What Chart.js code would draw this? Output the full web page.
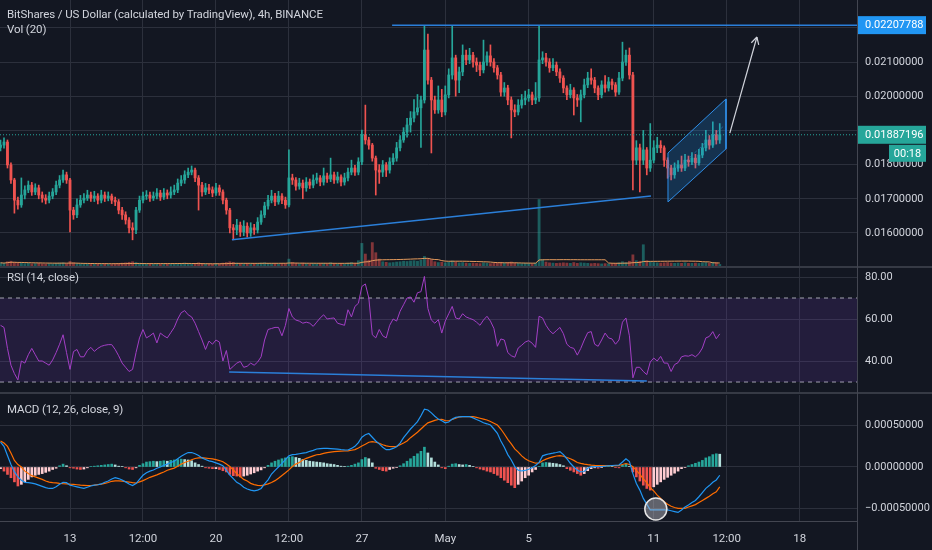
<!DOCTYPE html>
<html>
<head>
<meta charset="utf-8">
<script src="https://cdn.jsdelivr.net/npm/chart.js@4.4.1/dist/chart.umd.min.js"></script>
<style>
  html, body { margin: 0; padding: 0; background: #131722; }
  body { width: 932px; height: 550px; position: relative; overflow: hidden; font-family: Roboto, sans-serif; }
  .pane { position: absolute; left: 0; width: 932px; }
  .sep { position: absolute; left: 0; width: 932px; height: 2px; background: #363a45; }
  .axisline { position: absolute; left: 857px; top: 0; width: 1px; height: 550px; background: #434651; }
  .legend { position: absolute; left: 7px; color: #d1d4dc; font-size: 11.5px; line-height: 14px; white-space: nowrap; letter-spacing: -0.1px; }
</style>
</head>
<body>
<div class="pane" style="top:0;height:266px"><canvas id="priceChart"></canvas></div>
<div class="sep" style="top:266px"></div>
<div class="pane" style="top:268px;height:124px"><canvas id="rsiChart"></canvas></div>
<div class="sep" style="top:392px"></div>
<div class="pane" style="top:395px;height:155px"><canvas id="macdChart"></canvas></div>
<div class="axisline"></div>
<div class="legend" style="top:7px">BitShares / US Dollar (calculated by TradingView), 4h, BINANCE</div>
<div class="legend" style="top:22px">Vol (20)</div>
<div class="legend" style="top:270px">RSI (14, close)</div>
<div class="legend" style="top:402px">MACD (12, 26, close, 9)</div>
<script>
// prices in units of 1e-5 USD, one candle per 4h
const firstOpen = 1850;
const closes = [
  1857,1866,1799,1755,1696,1682,1711,1726,1740,1720,
  1732,1711,1702,1696,1708,1720,1740,1755,1770,1755,
  1667,1653,1682,1696,1702,1711,1702,1708,1696,1711,
  1702,1708,1696,1691,1667,1653,1638,1615,1609,1667,
  1696,1708,1711,1702,1708,1717,1705,1717,1711,1720,
  1726,1746,1755,1770,1778,1784,1761,1740,1720,1732,
  1726,1717,1732,1720,1696,1667,1615,1609,1623,1603,
  1620,1600,1615,1609,1632,1653,1679,1696,1708,1691,
  1708,1696,1682,1761,1755,1737,1746,1732,1749,1740,
  1755,1761,1749,1767,1758,1770,1755,1764,1749,1761,
  1778,1790,1778,1808,1887,1872,1857,1819,1784,1778,
  1799,1784,1808,1819,1849,1872,1895,1916,1936,1954,
  1966,1989,2135,2047,1989,1960,1989,1954,2004,2062,
  2112,2047,2071,2120,2106,2120,2100,2091,2077,2100,
  2118,2100,2083,2062,2012,2024,1989,1960,1954,1974,
  1989,1995,2004,1989,1995,2106,2112,2100,2083,2091,
  2071,2053,2024,2004,2018,1995,1989,2004,2033,2053,
  2047,2024,2004,2033,2024,2042,2033,2012,2053,2100,
  2120,2062,1813,1849,1813,1843,1790,1813,1849,1857,
  1849,1813,1790,1770,1790,1799,1790,1813,1808,1819,
  1805,1828,1849,1872,1857,1887,1872,1887.196
];
const highs = [
  1872,1878,1872,1805,1760,1705,1761,1738,1752,1748,
  1744,1740,1720,1712,1720,1730,1752,1768,1784,1778,
  1760,1675,1700,1710,1715,1725,1720,1722,1715,1725,
  1720,1720,1714,1705,1698,1675,1662,1645,1630,1675,
  1708,1720,1724,1720,1720,1730,1725,1730,1726,1735,
  1740,1758,1768,1782,1790,1796,1790,1768,1748,1745,
  1742,1735,1745,1740,1726,1702,1672,1625,1640,1632,
  1636,1630,1630,1625,1645,1665,1690,1710,1725,1716,
  1722,1715,1705,1843,1772,1762,1760,1755,1762,1758,
  1770,1775,1768,1790,1775,1819,1778,1778,1770,1775,
  1790,1813,1798,1820,1901,1974,1880,1862,1825,1800,
  1812,1806,1820,1832,1865,1885,1908,1935,1955,1990,
  2005,2000,2205,2182,2055,2000,2030,2020,2030,2080,
  2205,2120,2085,2150,2135,2140,2128,2112,2100,2164,
  2130,2150,2110,2090,2070,2040,2032,1998,1975,1990,
  2005,2015,2020,2012,2040,2205,2130,2125,2110,2110,
  2100,2080,2060,2030,2035,2025,2005,2018,2050,2070,
  2080,2055,2030,2045,2060,2055,2050,2040,2070,2158,
  2135,2141,2070,1870,1860,1900,1850,1920,1870,1880,
  1870,1855,1820,1798,1805,1812,1825,1830,1825,1835,
  1830,1845,1862,1900,1885,1925,1900,1920
];
const lows = [
  1840,1848,1790,1745,1658,1670,1675,1700,1718,1710,
  1712,1700,1690,1685,1688,1700,1712,1732,1748,1745,
  1603,1640,1645,1675,1688,1695,1692,1692,1685,1688,
  1692,1694,1686,1680,1656,1640,1626,1600,1580,1598,
  1660,1688,1698,1692,1695,1700,1695,1698,1700,1702,
  1712,1718,1738,1745,1762,1770,1750,1667,1708,1712,
  1715,1706,1710,1710,1685,1655,1600,1580,1595,1590,
  1592,1588,1590,1596,1600,1625,1645,1670,1688,1680,
  1684,1686,1672,1676,1742,1725,1728,1700,1722,1730,
  1732,1745,1738,1740,1748,1750,1745,1746,1738,1740,
  1752,1770,1768,1770,1800,1860,1845,1810,1711,1745,
  1765,1765,1775,1800,1810,1840,1865,1880,1895,1925,
  1945,1850,1980,2035,1834,1950,1950,1940,1945,1995,
  2050,2000,2010,2060,2092,2095,2085,2072,2060,2068,
  2090,2088,2070,2050,2000,2000,1975,1878,1940,1945,
  1965,1975,1985,1975,1978,1985,2095,2088,2070,2075,
  2060,2040,2010,1990,1995,1945,1970,1925,1995,2025,
  2035,2010,1990,1995,2012,2015,2020,2000,2005,2045,
  2090,2050,1726,1800,1720,1800,1770,1780,1805,1835,
  1835,1795,1760,1755,1760,1780,1780,1782,1795,1800,
  1790,1798,1820,1840,1845,1850,1860,1862
];
const volumes = [
  1.2,1.0,1.6,1.8,1.4,1.1,1.3,0.9,1.0,0.8,0.9,1.0,0.8,0.7,0.9,0.8,1.0,1.1,1.2,0.9,
  1.7,1.2,0.9,0.8,0.7,0.8,0.6,0.7,0.7,0.6,0.8,0.7,0.6,0.8,1.0,1.1,1.2,1.4,1.6,1.3,
  1.1,0.9,0.8,0.7,0.7,0.8,0.6,0.7,0.8,0.7,0.9,1.0,0.9,1.1,0.9,0.8,1.0,1.2,0.9,0.8,
  0.8,0.7,0.9,0.8,1.1,1.3,1.6,1.4,1.1,1.0,0.9,1.0,0.8,0.9,1.0,1.1,1.2,1.0,0.9,0.8,
  0.8,0.9,0.9,2.6,1.3,1.0,0.9,1.1,0.9,0.8,0.9,0.8,0.9,1.0,0.8,1.2,0.9,0.8,0.9,0.8,
  1.1,1.3,1.0,2.0,8.5,4.5,2.2,8.8,5.0,2.6,1.6,1.4,1.2,1.3,1.5,1.6,1.8,1.7,1.9,2.0,
  1.8,2.2,3.6,2.6,2.4,1.6,1.3,1.4,1.2,1.5,1.9,1.5,1.2,1.3,1.1,1.0,1.1,1.0,0.9,1.2,
  1.0,0.9,1.0,1.1,1.4,1.1,1.3,1.5,1.1,1.0,0.9,1.0,0.9,0.8,1.1,25,2.4,1.5,1.2,1.1,
  1.0,1.1,1.2,1.1,1.0,1.3,1.0,1.2,1.1,1.0,0.9,1.0,0.9,0.8,0.9,0.8,0.9,1.0,1.2,1.6,
  1.3,1.8,4.2,2.0,1.8,8.0,2.0,1.6,1.3,1.2,1.1,1.2,1.3,1.1,1.0,1.1,1.0,1.2,1.0,1.0,
  1.1,1.0,1.2,1.3,1.1,1.4,1.2,0.6
];
const rsiValues = [
  57,56,46,38,34,31,40,39,43,46,
  43,40,40,39,38,40.5,44,48,52.5,44,
  36,44.5,45.5,42,42,45,46.5,44.6,46,47,
  47.5,47.8,47.8,45.5,42.5,39,37,35,36,44,
  51,55,51,52,53.3,48.6,53.3,52,51,53.5,
  56,60,63,64,62,61,58,54,50,45.5,
  49.5,48,50,49,40,45,36,37.5,39,39.8,
  37,37.5,39,38,39.5,42,50,55,55.5,56,
  56,52,57,65,61,59.5,59,58,58.5,58,
  56.5,58.5,60.5,62,60,60.3,60.5,58,57.5,57,
  64.4,61,66,67.5,75.5,76.7,70,52.5,51,55,
  52,51,57,60,59,63.7,66.8,70,70.5,68,
  72.5,73,80.3,65,59.5,58,59.7,53.3,59,62.5,
  66,60.5,60,62.5,61,60.3,59.7,58.5,57,59.5,
  61.3,59,55.5,47,50.5,50,44,42.5,41.8,46.2,
  47.5,49,49.7,48.5,46.5,61.3,60.5,57,54.5,53,
  54.5,56,53,48,46.5,46,42.8,46,50,53.5,
  54,48,47,50,53.3,51,50.5,48,50,58.5,
  60.5,52,32,37,37,35,33.5,39.5,41.4,40,
  42.2,39,39,35,38.3,39.2,42,42.5,42.3,43,
  42,43.5,46.2,51,51.7,54,50.6,52.9
];
// MACD values in units of 1e-5
const macdLine = [
  30,25,14,3,-6,-12,-16,-18.6,-19,-19.5,
  -20.5,-22,-23.5,-25,-26,-26,-24,-21,-18.5,-19,
  -22,-23,-24,-25,-25.8,-24.5,-23,-22,-21.5,-20.5,
  -18.5,-17,-14.5,-13,-14,-15.7,-18,-20.5,-22.5,-20,
  -15,-10,-7,-5,-3.6,-1.5,0,2,3.5,5.5,
  7,10,13,15.5,17.5,17.5,16,14,11,9,
  7.5,6.5,5,3.5,1.5,-4,-9.7,-14,-18.6,-21,
  -24.5,-26.6,-28,-29,-28,-26,-20.5,-15.5,-8.5,-4,
  0,4.4,9,13.5,15,15.2,16,16.8,17.5,19,
  20.2,21.8,22.2,22.5,22.6,22.3,22,21.7,21.2,20.8,
  20.6,22.5,25,29.5,36,39,40.5,36,31.5,28,
  24,21,21,22.5,24.6,29,35.5,40.8,46,50.5,
  55,62,70,69,65.5,61.5,58,56,53.5,54.5,
  58,60,60.8,61,61,60.9,59.5,57.5,55.7,53.5,
  52.3,50.8,46,40.8,31.5,24,15,8.5,0.5,-3.8,
  -4.8,-4.2,-2.8,-1,1.8,5.5,13.5,15,16,16.7,
  17.6,18.6,15,10,4.5,0,-3.8,-6,-5.5,-1.5,
  0.4,0.4,0.4,0.6,1,1.5,1.8,2.1,2.4,6,
  10,6.5,-8,-20,-28,-38,-45,-52,-52,-52,
  -52,-52,-52,-53,-54,-55,-52,-48.5,-46,-43,
  -40.5,-36,-31,-25.8,-22.5,-18.5,-15.7,-10
];
const signalLine = [
  31.5,29,25,17,8,3,0,-5,-8,-10.5,
  -12,-13.5,-15,-17,-18.3,-19,-19.3,-19.8,-20.2,-20.5,
  -20.8,-21,-21.5,-22,-22.3,-22.6,-22.4,-22,-21.3,-20.8,
  -19.8,-18.8,-17.3,-16.8,-16.8,-17,-17.6,-18.2,-19,-19.6,
  -18,-16.5,-14.5,-12.5,-11,-9.5,-7.7,-6,-4,-2.5,
  -1.3,1,3.5,5.5,7,8.8,10.3,11,11.3,10.8,
  10.3,9.8,9,7.8,6.3,3.5,0.5,-3.6,-8,-11.5,
  -15,-17,-19.8,-21.3,-22.2,-22.6,-21.7,-20.5,-18.8,-16.5,
  -13.5,-10.2,-7,-3.5,0.5,3.5,5.5,8.5,10.5,12,
  13.5,14.8,15.3,16.4,17.3,18,18.6,19,19.2,19.4,
  19.6,20.3,21,23,25.5,27.5,30,30.7,30,28.7,
  27,25.5,24.8,24.6,25,27,29,31.5,35.5,38.7,
  42,46,50,53.5,55,56.5,57.5,57.8,56.2,56,
  57.5,59,60.5,61,61,61,60.9,60,59,58,
  56.9,55,53,50.8,46,40,33.5,28,22,18,
  13.5,10,7.5,6,4.6,5,7.5,9.5,11,12.3,
  13.3,13.7,13,11.5,10,8,5.5,4.4,3.5,2.8,
  2.3,2,1.8,1.6,1.6,1.6,1.6,1.6,2,3,
  4.2,3,0.4,-4,-9,-14.5,-19,-25,-29,-34,
  -38,-42,-45,-47.5,-49,-50,-50,-50,-48.5,-47,
  -45.5,-43,-40.5,-38,-35.5,-32.5,-30,-24
];
const histValues = [
  -2,-5,-9,-13,-18,-23,-21,-18,-15,-12,
  -10,-9,-8,-6.5,-5,-3,-1.5,1.5,3.5,1.5,
  -1,-1.5,-2.5,-3,-2.5,-1,0.5,1,1.5,2,
  2.5,3,3.5,2.5,1,0.5,-1,-2.5,-3,-1,
  2,4,6,6.5,7,6.5,7,7.5,7,8,
  8.5,9,9.5,9,8.5,7.5,5,3,1,-1,
  -1.5,-2,-2,-3,-4.5,-6,-9,-10.5,-11,-12,
  -11,-10,-8.5,-7,-5,-3.5,-1,2,5,7,
  8.5,10,11,12,12.5,11.5,10.5,9,8,7,
  6.5,6,5.5,5,4,3.5,3,2,1,0.5,
  1,2,3.5,5,9,11.5,10,5,-1.5,-3,
  -4.5,-5,-3,-1.5,-0.5,1.5,4,7,10,13,
  16,19,24,17,11,6,2.5,-1,-2,1,
  3.5,4,3,2.5,3,2,0.5,-1,-2.5,-3.5,
  -5,-6,-8,-10,-13,-16,-19,-22,-25,-21,
  -17,-13,-10,-6,-3,0.5,5,5.5,5,4.5,
  4,3,1.5,-2,-4,-6,-8,-10,-8,-4.5,
  -2,-1,-1.5,-0.5,0.5,1,0.5,-0.5,-1,2,
  3.5,0.5,-6,-12,-17,-22,-26,-28,-24,-21,
  -18,-15,-12.5,-10,-7.5,-5,-2,-0.5,1.5,3,
  4.5,6,8,11,12.5,15,16,15.5
];

const dayTicks = [20, 41, 62, 83, 104, 128, 152, 188, 209, 230];
const dayLabels = ['13', '12:00', '20', '12:00', '27', 'May', '5', '11', '12:00', '18'];
const priceTicks = [1600, 1700, 1800, 1900, 2000, 2100, 2200];
const hiddenPriceTicks = [1900, 2200];
const rsiTicks = [40, 60, 80];
const rsiBands = [70, 30];
const macdTicks = [-50, 0, 50];

// drawings on the chart, [candle index, value]
const resistanceLevel = 2207.788;
const resistanceFrom = 112.7;
const supportLine = [[66.6, 1580], [187.2, 1708]];
const channelUpper = [[192.1, 1834], [208.8, 1992]];
const channelLower = [[192.1, 1691], [208.8, 1846]];
const arrowLine = [[209.9, 1892], [217.7, 2173]];
const rsiTrend = [[65.8, 34.8], [186, 30.5]];
const macdCircle = [188.6, -50.8];
const countdown = '00:18';

const xMin = -0.15, xMax = 246.5;
const GREEN = '#26a69a', RED = '#ef5350', BLUE = '#2b7fd9';
const GRID = '#2c303c', TEXT = '#d1d4dc';
const FONT = "Roboto, 'Noto Sans', sans-serif";

Chart.defaults.font.family = FONT;

const fmtPrice = v => (v / 1e5).toFixed(8);
const pts = arr => arr.map(p => ({ x: p[0], y: p[1] }));
const series = arr => arr.map((v, i) => ({ x: i, y: v }));

const opens = closes.map((c, i) => i === 0 ? firstOpen : closes[i - 1]);
const candleColors = closes.map((c, i) => c >= opens[i] ? GREEN : RED);
const volColors = closes.map((c, i) => c >= opens[i] ? 'rgba(38,166,154,0.5)' : 'rgba(239,83,80,0.5)');
const lastClose = closes[closes.length - 1];

// 20 period moving average of volume
const volMA = volumes.map((v, i) => {
    const w = volumes.slice(Math.max(0, i - 19), i + 1);
    return w.reduce((a, b) => a + b, 0) / w.length;
});

const histColors = histValues.map((h, i) => {
    const p = i ? histValues[i - 1] : h;
    if (h >= 0) return h >= p ? '#26a69a' : '#b2dfdb';
    return h < p ? '#ef5350' : '#ffcdd2';
});

function xAxis(showLabels) {
    return {
        type: 'linear', min: xMin, max: xMax, offset: false,
        grid: { color: GRID, drawTicks: false, offset: false },
        border: { display: showLabels, color: '#434651' },
        afterBuildTicks: s => { s.ticks = dayTicks.map(v => ({ value: v })); },
        ticks: {
            display: showLabels, autoSkip: false, maxRotation: 0, color: TEXT,
            font: { size: 11.5 }, padding: 11,
            callback: v => dayLabels[dayTicks.indexOf(v)]
        },
        afterFit: s => {
            s.paddingLeft = 0;
            s.paddingRight = 0;
            if (showLabels) s.height = 29;
        }
    };
}

function yAxis(min, max, ticks, fmt) {
    return {
        position: 'right', min: min, max: max,
        grid: { color: GRID, drawTicks: false },
        border: { display: false },
        afterBuildTicks: s => { s.ticks = ticks.map(v => ({ value: v })); },
        ticks: { color: TEXT, padding: 8, font: { size: 11 }, callback: fmt },
        afterFit: s => {
            s.width = 75;
            s.paddingTop = 0;
            s.paddingBottom = 0;
        }
    };
}

const baseOptions = {
    responsive: true,
    maintainAspectRatio: false,
    animation: false,
    events: [],
    layout: { padding: 0, autoPadding: false },
    plugins: { legend: { display: false }, tooltip: { enabled: false } }
};

const flatLine = (label, data, color, extra) => Object.assign({
    type: 'line', label: label, data: data, borderColor: color, borderWidth: 1,
    pointRadius: 0, fill: false, order: 0
}, extra || {});

// price tags on the right axis
const priceLabels = {
    id: 'priceLabels',
    afterDraw(chart) {
        const { ctx } = chart;
        const y = chart.scales.y;
        const left = y.left;
        const tag = (value, color) => {
            const py = y.getPixelForValue(value);
            ctx.fillStyle = color;
            ctx.fillRect(left, py - 9, 69, 18);
            ctx.fillStyle = '#ffffff';
            ctx.font = '11px ' + FONT;
            ctx.textBaseline = 'middle';
            ctx.textAlign = 'left';
            ctx.fillText(fmtPrice(value), left + 8, py + 0.5);
            return py;
        };
        ctx.save();
        tag(resistanceLevel, '#2196f3');
        const py = tag(lastClose, GREEN);
        ctx.fillStyle = GREEN;
        ctx.fillRect(left + 32, py + 10, 37, 17);
        ctx.fillStyle = '#ffffff';
        ctx.textAlign = 'center';
        ctx.fillText(countdown, left + 50.5, py + 19);
        ctx.restore();
    }
};

const arrowHead = {
    id: 'arrowHead',
    afterDatasetsDraw(chart) {
        const idx = chart.data.datasets.findIndex(d => d.label === 'arrow');
        const p = chart.getDatasetMeta(idx).data;
        const a = p[0], b = p[1];
        const ang = Math.atan2(b.y - a.y, b.x - a.x);
        const ctx = chart.ctx;
        ctx.save();
        ctx.strokeStyle = TEXT;
        ctx.lineWidth = 1.2;
        ctx.beginPath();
        [-0.5, 0.5].forEach(d => {
            ctx.moveTo(b.x, b.y);
            ctx.lineTo(b.x - 8 * Math.cos(ang + d), b.y - 8 * Math.sin(ang + d));
        });
        ctx.stroke();
        ctx.restore();
    }
};

// main price pane
new Chart(document.getElementById('priceChart'), {
    type: 'bar',
    data: {
        datasets: [
            flatLine('resistance', [{ x: resistanceFrom, y: resistanceLevel }, { x: xMax, y: resistanceLevel }], BLUE, { borderWidth: 1.5 }),
            flatLine('support', pts(supportLine), BLUE, { borderWidth: 1.5 }),
            flatLine('arrow', pts(arrowLine), TEXT, { borderWidth: 1.2 }),
            flatLine('channel', pts([channelUpper[0], channelUpper[1], channelLower[1], channelLower[0], channelUpper[0]]), '#2f8ee8', { borderWidth: 1 }),
            flatLine('channel mid', [
                { x: channelUpper[0][0], y: (channelUpper[0][1] + channelLower[0][1]) / 2 },
                { x: channelUpper[1][0], y: (channelUpper[1][1] + channelLower[1][1]) / 2 }
            ], 'rgba(47,142,232,0.45)', { borderDash: [3, 3] }),
            flatLine('last price', [{ x: xMin, y: lastClose }, { x: xMax, y: lastClose }], GREEN, { borderDash: [1, 2], order: 1 }),
            flatLine('channel top', pts(channelUpper), 'rgba(0,0,0,0)', { borderWidth: 0, fill: '+1', backgroundColor: 'rgba(33,150,243,0.22)', order: 1 }),
            flatLine('channel bottom', pts(channelLower), 'rgba(0,0,0,0)', { borderWidth: 0, order: 1 }),
            {
                type: 'bar', label: 'bodies', data: closes.map((c, i) => ({ x: i, y: [opens[i], c] })),
                backgroundColor: candleColors, barThickness: 2.2, minBarLength: 1, grouped: false, order: 2
            },
            {
                type: 'bar', label: 'wicks', data: closes.map((c, i) => ({ x: i, y: [lows[i], highs[i]] })),
                backgroundColor: candleColors, barThickness: 1, grouped: false, order: 3
            },
            flatLine('vol ma', series(volMA), '#e39a5c', { yAxisID: 'vol', order: 4 }),
            {
                type: 'bar', label: 'volume', data: series(volumes), yAxisID: 'vol',
                backgroundColor: volColors, barThickness: 2.2, grouped: false, order: 5
            }
        ]
    },
    options: Object.assign({}, baseOptions, {
        scales: {
            x: xAxis(false),
            y: yAxis(1503.5, 2281.3, priceTicks, v => hiddenPriceTicks.includes(v) ? '' : fmtPrice(v)),
            vol: { display: false, min: 0, max: 100 }
        }
    }),
    plugins: [priceLabels, arrowHead]
});

// RSI pane
new Chart(document.getElementById('rsiChart'), {
    type: 'line',
    data: {
        datasets: [
            flatLine('rsi', series(rsiValues), '#a33fc6', { order: 0 }),
            flatLine('rsi trend', pts(rsiTrend), BLUE, { borderWidth: 1.5, order: 1 }),
            flatLine('upper band', [{ x: xMin, y: rsiBands[0] }, { x: xMax, y: rsiBands[0] }], 'rgba(200,202,210,0.8)',
                { borderDash: [4, 4], fill: '+1', backgroundColor: 'rgba(126,60,200,0.16)', order: 2 }),
            flatLine('lower band', [{ x: xMin, y: rsiBands[1] }, { x: xMax, y: rsiBands[1] }], 'rgba(200,202,210,0.8)',
                { borderDash: [4, 4], order: 3 })
        ]
    },
    options: Object.assign({}, baseOptions, {
        scales: {
            x: xAxis(false),
            y: yAxis(25.24, 84.29, rsiTicks, v => v.toFixed(2))
        }
    })
});

// MACD pane with time axis
new Chart(document.getElementById('macdChart'), {
    type: 'bar',
    data: {
        datasets: [
            {
                type: 'line', label: 'circle', data: [{ x: macdCircle[0], y: macdCircle[1] }], showLine: false,
                pointRadius: 11, pointBackgroundColor: 'rgba(190,190,200,0.45)', pointBorderColor: '#e6e6e6',
                pointBorderWidth: 1.5, order: 0
            },
            flatLine('macd', series(macdLine), '#2196f3', { borderWidth: 1.2, order: 1 }),
            flatLine('signal', series(signalLine), '#ff6d00', { borderWidth: 1.2, order: 1 }),
            {
                type: 'bar', label: 'histogram', data: series(histValues), backgroundColor: histColors,
                barThickness: 2, grouped: false, order: 3
            }
        ]
    },
    options: Object.assign({}, baseOptions, {
        scales: {
            x: xAxis(true),
            y: yAxis(-65.38, 87.17, macdTicks, v => (v < 0 ? '\u2212' : '') + (Math.abs(v) / 1e5).toFixed(8))
        }
    })
});
</script>
</body>
</html>
